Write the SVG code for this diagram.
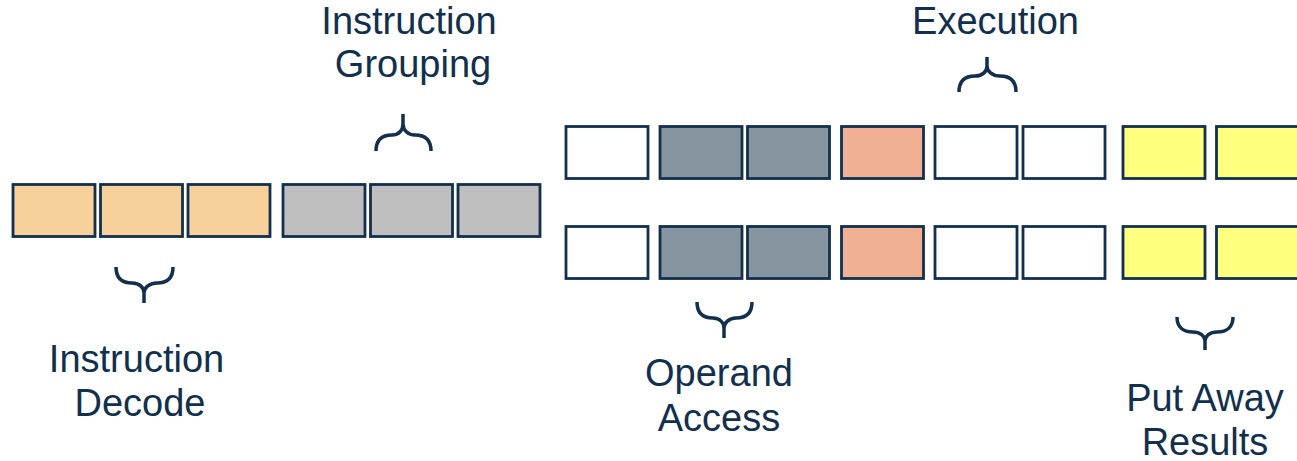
<svg xmlns="http://www.w3.org/2000/svg" width="1297" height="461" viewBox="0 0 1297 461">
<style>
.b{stroke:#12304e;stroke-width:2.8}
.peach{fill:#f8d09c}.gray{fill:#bfbfbf}.slate{fill:#8795a1}.salmon{fill:#f1b094}.white{fill:#ffffff}.yellow{fill:#ffff80}
.br{fill:none;stroke:#12304e;stroke-width:3.5;stroke-linecap:butt}
.t{font-family:"Liberation Sans",Arial,sans-serif;font-size:38px;fill:#12304e;text-anchor:middle}
</style>
<rect width="1297" height="461" fill="#ffffff"/>
<g id="decode-stage">
<rect class="b peach" x="13" y="184.5" width="82" height="52"/>
<rect class="b peach" x="100.5" y="184.5" width="82" height="52"/>
<rect class="b peach" x="188" y="184.5" width="82" height="52"/>
</g>
<g id="grouping-stage">
<rect class="b gray" x="283" y="184.5" width="82" height="52"/>
<rect class="b gray" x="370.5" y="184.5" width="82" height="52"/>
<rect class="b gray" x="458" y="184.5" width="82" height="52"/>
</g>
<g id="pipe-row-1">
<rect class="b white" x="566" y="126.5" width="82" height="52"/>
<rect class="b slate" x="660" y="126.5" width="82" height="52"/>
<rect class="b slate" x="747.5" y="126.5" width="82" height="52"/>
<rect class="b salmon" x="841.5" y="126.5" width="82" height="52"/>
<rect class="b white" x="935" y="126.5" width="82" height="52"/>
<rect class="b white" x="1023" y="126.5" width="82" height="52"/>
<rect class="b yellow" x="1123" y="126.5" width="82" height="52"/>
<rect class="b yellow" x="1216.5" y="126.5" width="85" height="52"/>
</g>
<g id="pipe-row-2">
<rect class="b white" x="566" y="226.5" width="82" height="52"/>
<rect class="b slate" x="660" y="226.5" width="82" height="52"/>
<rect class="b slate" x="747.5" y="226.5" width="82" height="52"/>
<rect class="b salmon" x="841.5" y="226.5" width="82" height="52"/>
<rect class="b white" x="935" y="226.5" width="82" height="52"/>
<rect class="b white" x="1023" y="226.5" width="82" height="52"/>
<rect class="b yellow" x="1123" y="226.5" width="82" height="52"/>
<rect class="b yellow" x="1216.5" y="226.5" width="85" height="52"/>
</g>
<g id="braces">
<path class="br" d="M116,267 C116,278 122,283 132,283 C140,283 144,288 144,293 L144,303 M173,267 C173,278 167,283 157,283 C149,283 144,288 144,293"/>
<path class="br" d="M376,151 C376,140 382,135 392,135 C399,135 403,130 403,124 L403,114 M431,151 C431,140 425,135 415,135 C408,135 403,130 403,124"/>
<path class="br" d="M959,92 C959,81 965,76 975,76 C983,76 987,71 987,66 L987,57 M1016,92 C1016,81 1010,76 1000,76 C992,76 987,71 987,66"/>
<path class="br" d="M697,302 C697,313 703,318 713,318 C720,318 724,323 724,328 L724,338 M752,302 C752,313 746,318 736,318 C729,318 724,323 724,328"/>
<path class="br" d="M1177,317 C1177,327 1183,332 1193,332 C1200,332 1205,336 1205,341 L1205,350 M1233,317 C1233,327 1227,332 1217,332 C1210,332 1205,336 1205,341"/>
</g>
<g id="labels">
<text class="t" x="409" y="34">Instruction</text>
<text class="t" x="413" y="77">Grouping</text>
<text class="t" x="995.5" y="34">Execution</text>
<text class="t" x="136.5" y="372">Instruction</text>
<text class="t" x="140" y="416">Decode</text>
<text class="t" x="719" y="386">Operand</text>
<text class="t" x="719" y="431">Access</text>
<text class="t" x="1205" y="411">Put Away</text>
<text class="t" x="1205" y="455">Results</text>
</g>
</svg>
